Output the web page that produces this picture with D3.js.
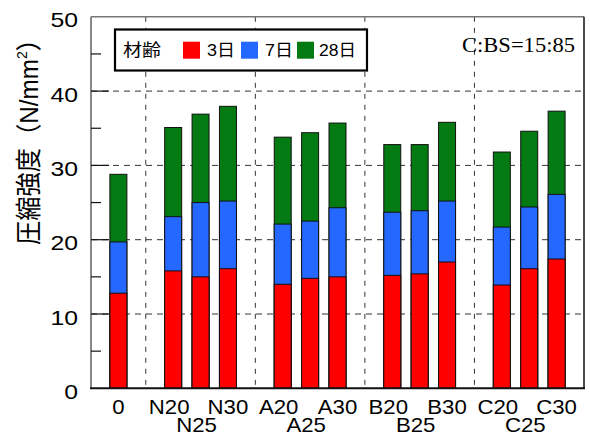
<!DOCTYPE html>
<html><head><meta charset="utf-8">
<script src="https://cdn.jsdelivr.net/npm/d3@7/dist/d3.min.js"></script>
<style>body{margin:0;background:#fff}svg{display:block}</style>
</head><body>
<script>
const groups = [["0"],["N20","N25","N30"],["A20","A25","A30"],["B20","B25","B30"],["C20","C25","C30"]];
const day3  = [12.8,15.8,15.0,16.1,14.0,14.8,15.0,15.2,15.4,17.0,13.9,16.1,17.4];
const day7  = [19.7,23.1,25.0,25.2,22.1,22.5,24.3,23.7,23.9,25.2,21.7,24.4,26.1];
const day28 = [28.8,35.1,36.9,37.95,33.8,34.4,35.7,32.8,32.8,35.8,31.8,34.6,37.3];
const yTicks = [0,10,20,30,40,50];
const seriesNames = ["3日","7日","28日"];
const seriesColors = ["#ff0000","#2468ff","#047a12"];

const W=590,H=435;
const svg=d3.select("body").append("svg").attr("width",W).attr("height",H);
const latin="'Liberation Sans', Arial, 'Noto Sans CJK JP', sans-serif";

// derive bar slots: groups separated by one empty slot
const bars=[]; const seps=[]; let pos=1;
groups.forEach((g,gi)=>{
  if(gi>0){ seps.push(pos-1); }
  g.forEach((c,ci)=>{ bars.push({cat:c,pos:pos,gi:gi,ci:ci,n:g.length}); pos++; });
  pos++;
});
bars.forEach((b,i)=>{b.v3=day3[i];b.v7=day7[i];b.v28=day28[i];});
const x=d3.scaleLinear().domain([0,pos-1]).range([91,584]);
const y=d3.scaleLinear().domain([0,50]).range([388.3,16.8]);
const bw=0.62;

// gridlines
const g=svg.append("g");
g.selectAll("line.hg").data(yTicks.filter(t=>t>0&&t<50)).enter().append("line")
 .attr("x1",x(0)).attr("x2",x(pos-1)).attr("y1",d=>y(d)).attr("y2",d=>y(d))
 .attr("stroke","#333").attr("stroke-width",1).attr("stroke-dasharray","6,5");
g.selectAll("line.vg").data(seps).enter().append("line")
 .attr("x1",d=>x(d)).attr("x2",d=>x(d)).attr("y1",y(50)).attr("y2",y(0))
 .attr("stroke","#333").attr("stroke-width",1).attr("stroke-dasharray","5,6");

// bars (overlapping: 28 day behind, then 7, then 3)
["v28","v7","v3"].forEach((k,ki)=>{
  const col=seriesColors[2-ki];
  svg.append("g").selectAll("rect").data(bars).enter().append("rect")
   .attr("x",d=>x(d.pos-bw/2)).attr("width",d=>x(d.pos+bw/2)-x(d.pos-bw/2))
   .attr("y",d=>y(d[k])).attr("height",d=>y(0)-y(d[k]))
   .attr("fill",col).attr("stroke","#111").attr("stroke-width",1);
});

// frame
svg.append("line").attr("x1",x(0)).attr("x2",x(pos-1)).attr("y1",y(50)).attr("y2",y(50)).attr("stroke","#777").attr("stroke-width",1.5);
svg.append("line").attr("x1",x(0)).attr("x2",x(0)).attr("y1",y(50)).attr("y2",y(0)).attr("stroke","#888").attr("stroke-width",2);
svg.append("line").attr("x1",x(pos-1)).attr("x2",x(pos-1)).attr("y1",y(50)).attr("y2",y(0)).attr("stroke","#111").attr("stroke-width",1.5);
svg.append("line").attr("x1",x(0)-1).attr("x2",x(pos-1)+1).attr("y1",y(0)).attr("y2",y(0)).attr("stroke","#111").attr("stroke-width",2);

// y ticks
const minor=d3.range(5,50,10);
svg.selectAll("line.mt").data(yTicks.filter(t=>t>0&&t<50)).enter().append("line")
 .attr("x1",x(0)).attr("x2",x(0)+18).attr("y1",d=>y(d)).attr("y2",d=>y(d)).attr("stroke","#111").attr("stroke-width",1.2);
svg.selectAll("line.nt").data(minor).enter().append("line")
 .attr("x1",x(0)).attr("x2",x(0)+10).attr("y1",d=>y(d)).attr("y2",d=>y(d)).attr("stroke","#111").attr("stroke-width",1.2);
svg.selectAll("text.yt").data(yTicks).enter().append("text")
 .attr("transform",d=>`translate(78,${y(d)+10.5}) scale(1.24,1)`)
 .attr("text-anchor","end").attr("font-family",latin).attr("font-size",20).attr("fill","#000").text(d=>d);

// x labels
svg.selectAll("text.xt").data(bars).enter().append("text")
 .attr("transform",d=>{
   const row2 = d.n===3 && d.ci===1;
   const dx = (d.n===3 && d.ci<2) ? -4 : 0;
   return `translate(${x(d.pos)+dx},${row2?431.5:413.5}) scale(1.11,1)`;
 })
 .attr("text-anchor","middle").attr("font-family",latin).attr("font-size",20).attr("fill","#000").text(d=>d.cat);

// y title
const yt=svg.append("text").attr("transform","translate(38,136) rotate(-90)")
 .attr("text-anchor","middle").attr("font-family",latin).attr("font-size",26)
 .attr("textLength",218).attr("lengthAdjust","spacingAndGlyphs");
yt.append("tspan").text("圧縮強度（N/mm");
yt.append("tspan").attr("font-size",15).attr("dy",-11).text("2");
yt.append("tspan").attr("dy",11).text("）");

// legend
const lg=svg.append("g");
lg.append("rect").attr("x",115).attr("y",29.5).attr("width",252).attr("height",41)
 .attr("fill","#fff").attr("stroke","#000").attr("stroke-width",2.2);
lg.append("text").attr("x",123).attr("y",55.5).attr("font-family",latin).attr("font-size",17)
 .attr("textLength",38).attr("lengthAdjust","spacingAndGlyphs").text("材齢");
const sw=[183,241,297], tx=[207,265,319], tl=[28,28,37];
seriesNames.forEach((s,i)=>{
  lg.append("rect").attr("x",sw[i]).attr("y",41.7).attr("width",17).attr("height",17).attr("fill",seriesColors[i]);
  lg.append("text").attr("x",tx[i]).attr("y",55.5).attr("font-family",latin).attr("font-size",17)
   .attr("textLength",tl[i]).attr("lengthAdjust","spacingAndGlyphs").text(s);
});

// ratio note
svg.append("text").attr("x",462).attr("y",52).attr("font-family","'Liberation Serif','Times New Roman',serif")
 .attr("font-size",21).attr("textLength",113).attr("lengthAdjust","spacingAndGlyphs").text("C:BS=15:85");
</script>
</body></html>
